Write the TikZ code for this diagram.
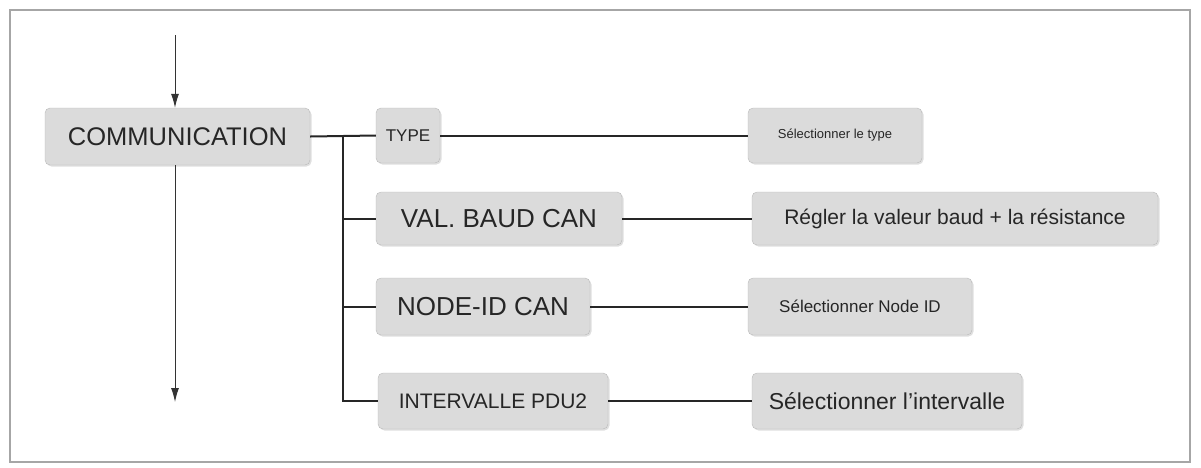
\documentclass[tikz,border=0pt]{standalone}
\usepackage{fontspec}
\setmainfont{Liberation Sans}
\usetikzlibrary{arrows.meta,shadows}
\begin{document}
\begin{tikzpicture}[x=1pt,y=-1pt,
 box/.style={draw=gray!55,fill=gray!28,rounded corners=5pt,inner sep=0pt,drop shadow={shadow xshift=1.5pt,shadow yshift=-1.5pt,opacity=0.25},text=black!85},
 ln/.style={line width=2pt,black!85},
 ar/.style={line width=1pt,black!80,-{Latex[length=14pt,width=8pt]}}]
\useasboundingbox (0,0) rectangle (1201,467);
\draw[gray!70,line width=1.5pt] (10,10) rectangle (1190,462);
\node[box,minimum width=265pt,minimum height=57pt,font=\fontsize{25.5}{30}\selectfont] (com) at (177.5,136.5) {COMMUNICATION};
\node[box,minimum width=64pt,minimum height=55pt,font=\fontsize{17}{20}\selectfont] (type) at (408,135.5) {TYPE};
\node[box,minimum width=246pt,minimum height=53pt,font=\fontsize{26}{32}\selectfont] (baud) at (499,218.5) {VAL. BAUD CAN};
\node[box,minimum width=214pt,minimum height=57pt,font=\fontsize{26}{32}\selectfont] (nid) at (483,306.5) {NODE-ID CAN};
\node[box,minimum width=230pt,minimum height=56pt,font=\fontsize{21}{24}\selectfont] (pdu) at (493,401) {INTERVALLE PDU2};
\node[box,minimum width=174pt,minimum height=55pt,font=\fontsize{13}{16}\selectfont] (r1) at (835,135.5) {Sélectionner le type};
\node[box,minimum width=406pt,minimum height=53pt,font=\fontsize{21}{24}\selectfont] (r2) at (955,218.5) {Régler la valeur baud + la résistance};
\node[box,minimum width=224pt,minimum height=57pt,font=\fontsize{17}{20}\selectfont] (r3) at (860,306.5) {Sélectionner Node ID};
\node[box,minimum width=270pt,minimum height=56pt,font=\fontsize{23}{26}\selectfont] (r4) at (887,401) {Sélectionner l’intervalle};
\coordinate (top) at (175,35);
\coordinate (bot) at (175,402);
\coordinate (j) at (343,135.5);
\draw[ar] (top) -- (com.north -| top);
\draw[ar] (com.south -| bot) -- (bot);
\draw[ln] (com.east) -- (type.west);
\draw[ln] (j) |- (pdu.west);
\draw[ln] (j |- baud) -- (baud.west);
\draw[ln] (j |- nid) -- (nid.west);
\draw[ln] (type.east) -- (r1.west);
\draw[ln] (baud.east) -- (r2.west);
\draw[ln] (nid.east) -- (r3.west);
\draw[ln] (pdu.east) -- (r4.west);
\end{tikzpicture}
\end{document}
